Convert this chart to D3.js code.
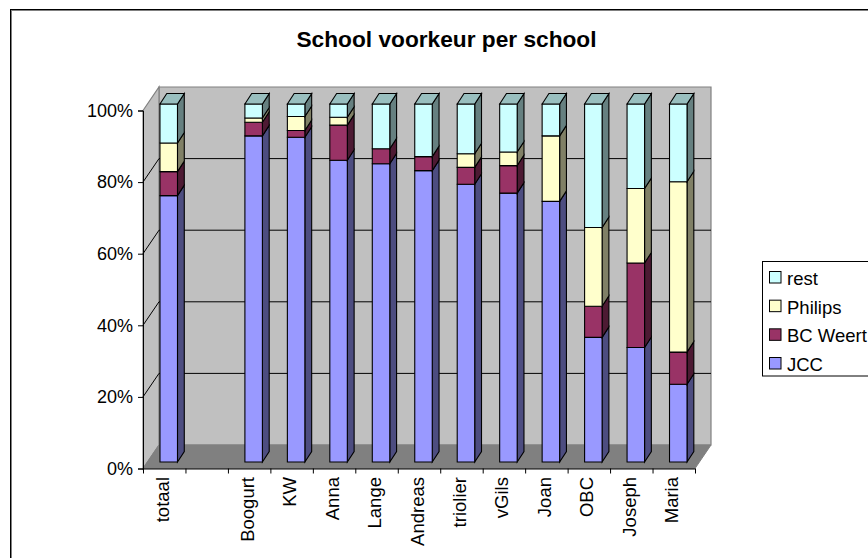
<!DOCTYPE html>
<html><head><meta charset="utf-8">
<script src="https://cdn.jsdelivr.net/npm/d3@7/dist/d3.min.js"></script>
<style>html,body{margin:0;padding:0;background:#fff;overflow:hidden}svg{display:block}
text{font-family:"Liberation Sans",Arial,sans-serif;fill:#000}</style></head>
<body><svg id="c" width="868" height="558"></svg>
<script>
const title = "School voorkeur per school";
const categories = ["totaal","","Boogurt","KW","Anna","Lange","Andreas","triolier","vGils","Joan","OBC","Joseph","Maria"];
const seriesNames = ["JCC","BC Weert","Philips","rest"];
const JCC     = [74.4,0,91.1,90.7,84.3,83.3,81.4,77.6,75.1,72.8,34.8,32.0,21.7];
const BCWeert = [6.7,0,3.8,1.9,9.8,4.2,3.9,4.7,7.7,0,8.7,23.6,9.0];
const Philips = [8.0,0,1.2,3.9,2.2,0,0,3.8,3.8,18.3,22.0,20.8,47.6];
const rest    = [10.9,0,3.9,3.5,3.7,12.5,14.7,13.9,13.4,8.9,34.5,23.6,21.7];
const hasBar  = categories.map(c => c !== "");
const colors  = ["#9999FF","#993366","#FFFFCC","#CCFFFF"];
const sides   = ["#4D4D80","#4D1A33","#808066","#668080"];
const topCols = ["#7373BF","#73264D","#BFBF99","#99BFBF"];

const table = categories.map((c,i)=>({c,i,JCC:JCC[i],"BC Weert":BCWeert[i],Philips:Philips[i],rest:rest[i]}));
const stacked = d3.stack().keys(seriesNames)(table);

const svg = d3.select("#c");
const L=143,R=695,B=468.5,T=110.5, DX=16, DY=23.5;
const y = d3.scaleLinear().domain([0,100]).range([B,T]);
const x = d3.scaleBand().domain(d3.range(categories.length)).range([L,R]);
const poly=(p,f,s,w)=>svg.append("polygon").attr("points",p.map(q=>q.join(",")).join(" ")).attr("fill",f).attr("stroke",s||"none").attr("stroke-width",w||1);

// frame (open at the bottom and right: it runs past the picture)
svg.append("rect").attr("x",10.5).attr("y",9.5).attr("width",900).attr("height",600).attr("fill","#fff").attr("stroke","#000").attr("stroke-width",1);
svg.append("rect").attr("x",11.5).attr("y",10.5).attr("width",900).attr("height",600).attr("fill","none").attr("stroke","#808080").attr("stroke-width",1);
// title
svg.append("text").attr("x",446.5).attr("y",47).attr("text-anchor","middle").attr("font-weight","bold").attr("font-size",22.7).text(title);

// walls
poly([[L+DX,y(100)-DY],[R+DX,y(100)-DY],[R+DX,y(0)-DY],[L+DX,y(0)-DY]],"#C0C0C0","#808080",1.2);
poly([[L,y(100)],[L+DX,y(100)-DY],[L+DX,y(0)-DY],[L,y(0)]],"#C0C0C0","#808080",1.2);
poly([[L,y(0)],[L+DX,y(0)-DY],[R+DX,y(0)-DY],[R,y(0)]],"#808080","#808080",1);

// gridlines
const ticks=[0,20,40,60,80,100];
ticks.filter(t=>t>0&&t<100).forEach(t=>{
  svg.append("path").attr("d",`M${L},${y(t)}L${L+DX},${y(t)-DY}L${R+DX},${y(t)-DY}`).attr("fill","none").attr("stroke","#000").attr("stroke-width",1);
});

// bars
const bw=17.5, fx=4.5, fy=6.5, bdx=6.8, bdy=10.5;
const bx=i=>x(i)+x.bandwidth()/2-bw/2+fx;
const by=v=>y(v)-fy;
categories.forEach((c,i)=>{
  if(!hasBar[i]) return;
  stacked.forEach((s,k)=>{
    const [v0,v1]=s[i]; if(v1-v0<=0) return;
    const x0=bx(i),x1=x0+bw,y0=by(v0),y1=by(v1);
    poly([[x1,y0],[x1+bdx,y0-bdy],[x1+bdx,y1-bdy],[x1,y1]],sides[k],"#000",1.1);
    poly([[x0,y0],[x1,y0],[x1,y1],[x0,y1]],colors[k],"#000",1.1);
    if(v1>=99.9) poly([[x0,y1],[x0+bdx,y1-bdy],[x1+bdx,y1-bdy],[x1,y1]],topCols[k],"#000",1.1);
  });
});

// axes
const yAxis=d3.axisLeft(y).tickValues(ticks).tickFormat(d=>d+"%").tickSize(5).tickPadding(5);
const gy=svg.append("g").attr("transform",`translate(${L},0)`).call(yAxis);
gy.selectAll("text").attr("font-size",18).attr("font-family","Liberation Sans");
gy.selectAll("line,path").attr("stroke","#000");
const xAxis=d3.axisBottom(d3.scaleLinear().domain([0,categories.length]).range([L,R])).tickValues(d3.range(categories.length+1)).tickFormat("").tickSize(5).tickSizeOuter(0);
const gx=svg.append("g").attr("transform",`translate(0,${B})`).call(xAxis);
gx.selectAll("line,path").attr("stroke","#000");
categories.forEach((c,i)=>{
  if(!c) return;
  const cx=x(i)+x.bandwidth()/2;
  svg.append("text").attr("transform",`translate(${cx+4.5},477) rotate(-90)`).attr("text-anchor","end").attr("font-size",18.5).text(c);
});

// legend
const lx=762.5, ly=261.5;
svg.append("rect").attr("x",lx).attr("y",ly).attr("width",130).attr("height",114.5).attr("fill","#fff").attr("stroke","#000").attr("stroke-width",1);
const ls=d3.scalePoint().domain(seriesNames.slice().reverse()).range([0,86]);
seriesNames.forEach((n,k)=>{
  const yy=ly+16+ls(n);
  svg.append("rect").attr("x",769.5).attr("y",yy-6).attr("width",11.5).attr("height",11.5).attr("fill",colors[k]).attr("stroke","#000").attr("stroke-width",1);
  svg.append("text").attr("x",787).attr("y",yy+7.5).attr("font-size",18.5).text(n);
});
</script></body></html>
